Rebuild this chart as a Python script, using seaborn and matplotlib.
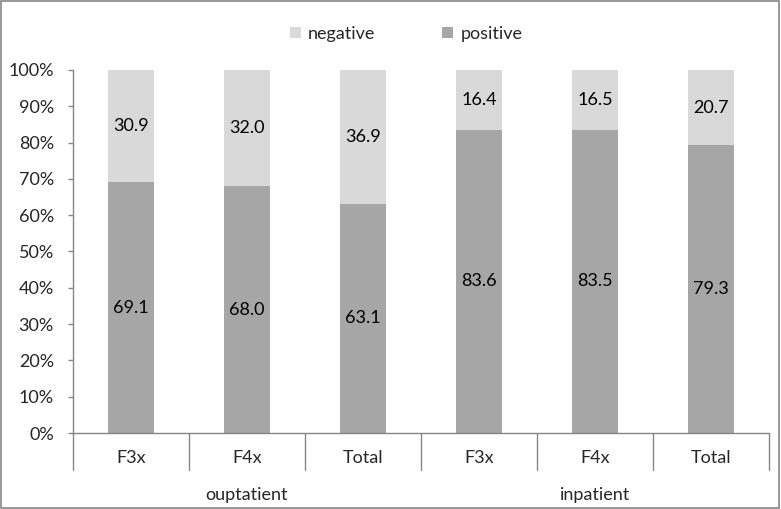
import pandas as pd
import matplotlib.pyplot as plt
import matplotlib.transforms as mtransforms
from matplotlib.patches import Rectangle
import seaborn as sns

# values (percent)
groups = ["ouptatient", "ouptatient", "ouptatient", "inpatient", "inpatient", "inpatient"]
codes = ["F3x", "F4x", "Total", "F3x", "F4x", "Total"]
positive = [69.1, 68.0, 63.1, 83.6, 83.5, 79.3]
negative = [30.9, 32.0, 36.9, 16.4, 16.5, 20.7]
yticks = list(range(0, 101, 10))

df = pd.DataFrame({"group": groups, "code": codes,
                   "positive": positive, "negative": negative})
df["key"] = df["group"] + " " + df["code"]
df["total"] = df["positive"] + df["negative"]

sns.set_style("white")
plt.rcParams["font.family"] = ["Lato", "DejaVu Sans"]

c_pos = "#a6a6a6"
c_neg = "#d9d9d9"
axis_col = "#868686"
fs = 13

fig = plt.figure(figsize=(7.81, 5.09), dpi=100)
ax = fig.add_axes([0.0935, 0.1493, 0.891, 0.7132])

order = list(df["key"])
sns.barplot(data=df, x="key", y="total", order=order, color=c_neg,
            width=0.4, saturation=1, label="negative", linewidth=0, ax=ax)
sns.barplot(data=df, x="key", y="positive", order=order, color=c_pos,
            width=0.4, saturation=1, label="positive", linewidth=0, ax=ax)

# value labels
ax.bar_label(ax.containers[1], labels=[f"{v:.1f}" for v in positive],
             label_type="center", fontsize=fs, color="black")
for i, (p, n) in enumerate(zip(positive, negative)):
    ax.text(i, p + n / 2, f"{n:.1f}", ha="center", va="center",
            fontsize=fs, color="black")

ax.set_ylim(0, 100)
ax.set_xlim(-0.5, len(order) - 0.5)
ax.set_yticks(yticks)
ax.set_yticklabels([f"{t}%" for t in yticks], fontsize=fs)
ax.tick_params(axis="y", length=3.8, width=1, color=axis_col, direction="out", pad=10, left=True)
ax.set_xticks(range(len(order)))
ax.set_xticklabels(codes, fontsize=fs)
ax.tick_params(axis="x", length=0, pad=12)
ax.set_xlabel("")
ax.set_ylabel("")

for s in ["top", "right"]:
    ax.spines[s].set_visible(False)
for s in ["left", "bottom"]:
    ax.spines[s].set_color(axis_col)
    ax.spines[s].set_linewidth(1)

# category separators below the axis
trans = mtransforms.blended_transform_factory(ax.transData, ax.transAxes)
for b in range(len(order) + 1):
    ax.plot([b - 0.5, b - 0.5], [0, -0.102], color=axis_col, lw=1,
            transform=trans, clip_on=False)

# group labels
for g in ["ouptatient", "inpatient"]:
    idx = [i for i, v in enumerate(groups) if v == g]
    ax.text(sum(idx) / len(idx), -0.171, g, transform=trans,
            ha="center", va="center", fontsize=fs)

ax.legend_ = None
handles, labels = ax.get_legend_handles_labels()
fig.legend(handles, labels, loc="center", bbox_to_anchor=(0.52, 0.933),
           ncol=2, frameon=False, fontsize=fs, handlelength=0.6,
           handleheight=0.6, handletextpad=0.4, columnspacing=3.7)

fig.add_artist(Rectangle((0.001, 0.001), 0.997, 0.997, transform=fig.transFigure,
                         fill=False, edgecolor=axis_col, lw=1.2))

fig.savefig("out.png", dpi=100)
